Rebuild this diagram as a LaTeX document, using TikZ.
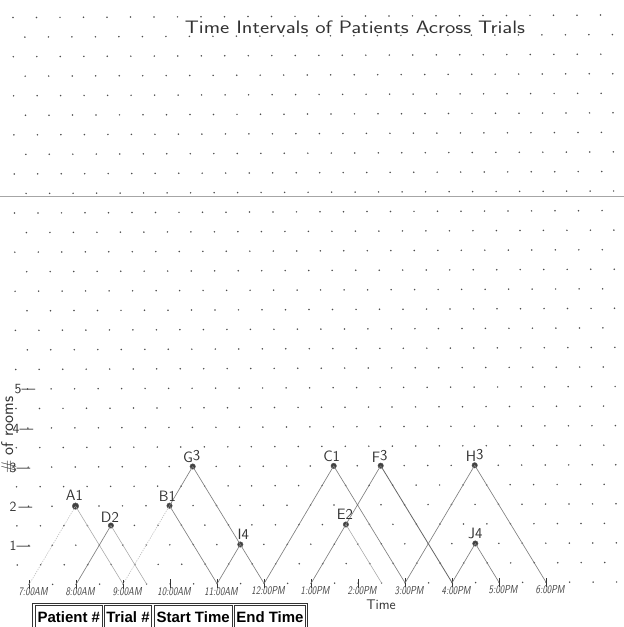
\documentclass[tikz,border=0pt]{standalone}
\usepackage{fontspec}
\newfontfamily\tablefont{Liberation Sans}
\begin{document}
\begin{tikzpicture}[x=1pt,y=1pt,
  peak/.style={circle,fill=black!75,draw=black!65,line width=0.4pt,inner sep=0pt,minimum size=5.5pt},
  pencil/.style={draw=black!50,line width=0.65pt},
  lightpencil/.style={draw=black!35,line width=0.55pt},
  faint/.style={draw=black!28,line width=0.55pt,dash pattern=on 1.2pt off 1.2pt},
  ptlabel/.style={font=\sffamily\fontsize{15}{15}\selectfont,inner sep=0pt,text=black!80},
  ticklab/.style={font=\sffamily\slshape\fontsize{11.5}{11.5}\selectfont,xscale=0.78,inner sep=0pt,text=black!75},
  tickmark/.style={rectangle,fill=black!80,inner sep=0pt,minimum width=1.1pt,minimum height=9pt},
  ylab/.style={font=\sffamily\fontsize{14}{14}\selectfont,inner sep=0pt,text=black!80},
  cell/.style={draw=black!80,line width=0.9pt,font=\tablefont\bfseries\fontsize{15}{15}\selectfont,inner sep=0pt,minimum height=23.4pt,anchor=north west}
]
\useasboundingbox (0,0) rectangle (624,627);
\clip (0,0) rectangle (624,627);
\fill[white] (0,0) rectangle (624,627);

% scan crease
\draw[black!35,line width=0.7pt] (0,431) -- (624,431);

% dot grid
\begin{scope}[shift={(13.3,570.3)},x={(23.5pt,0.1pt)},y={(0.15pt,-19.55pt)}]
\foreach \j in {-2,...,27}{
  \pgfmathsetmacro\off{mod(\j+2,2)*0.5}
  \foreach \i in {0,...,25}{
    \fill[black!70] (\i+\off,\j) circle[radius=0.85pt];
  }
}
\end{scope}

% title
\node[font=\sffamily\fontsize{18}{18}\selectfont,text=black!80,inner sep=0pt,xscale=1.22] (title) at (355,600) {Time Intervals of Patients Across Trials};

% chart
\begin{scope}[shift={(29.1,42.5)},x={(47pt,0.2pt)},y={(-0.3pt,39.1pt)}]
  \foreach \h in {0,...,11}{ \node[tickmark] (t\h) at (\h,0) {}; }
  \coordinate (h25) at (2.5,0);
  \coordinate (h75) at (7.5,0);
  \foreach \h/\lab in {0/7:00AM,1/8:00AM,2/9:00AM,3/10:00AM,4/11:00AM,5/12:00PM,6/1:00PM,7/2:00PM,8/3:00PM,9/4:00PM,10/5:00PM,11/6:00PM}{
    \node[ticklab] (l\h) at ([shift={(4pt,-7.5pt)}]t\h.center) {\lab};
  }
  \node[peak,minimum size=6.5pt] (A1) at (1,2) {};
  \node[peak] (D2) at (1.75,1.5) {};
  \node[peak] (B1) at (3,2) {};
  \node[peak] (G3) at (3.5,3) {};
  \node[peak] (I4) at (4.5,1) {};
  \node[peak] (C1) at (6.5,3) {};
  \node[peak] (E2) at (6.75,1.5) {};
  \node[peak] (F3) at (7.5,3) {};
  \node[peak] (H3) at (9.5,3) {};
  \node[peak] (J4) at (9.5,1) {};
\end{scope}

% connectors
\draw[faint] (t0.center) -- (A1.center);
\draw[lightpencil] (A1.center) -- (t2.center);
\draw[pencil] (t1.center) -- (D2.center);
\draw[lightpencil] (D2.center) -- (h25);
\draw[faint] (t2.center) -- (B1.center);
\draw[pencil] (B1.center) -- (G3.center);
\draw[pencil] (B1.center) -- (t4.center);
\draw[pencil] (G3.center) -- (I4.center) -- (t5.center);
\draw[pencil] (t4.center) -- (I4.center);
\draw[pencil] (t5.center) -- (C1.center) -- (t8.center);
\draw[pencil] (t6.center) -- (E2.center) -- (F3.center);
\draw[pencil,draw=black!60,line width=0.8pt] (F3.center) -- (t9.center);
\draw[lightpencil] (E2.center) -- (h75);
\draw[pencil] (t8.center) -- (H3.center) -- (t11.center);
\draw[pencil] (t9.center) -- (J4.center) -- (t10.center);

% point labels
\node[ptlabel] (lA1) at ([shift={(-1pt,10.5pt)}]A1.center) {A1};
\node[ptlabel] (lD2) at ([shift={(-1pt,8.5pt)}]D2.center) {D2};
\node[ptlabel] (lB1) at ([shift={(-2pt,9pt)}]B1.center) {B1};
\node[ptlabel] (lG3) at ([shift={(-1pt,10pt)}]G3.center) {G\raisebox{2pt}{3}};
\node[ptlabel] (lI4) at ([shift={(3pt,10.5pt)}]I4.center) {I4};
\node[ptlabel] (lC1) at ([shift={(-2pt,9.5pt)}]C1.center) {C1};
\node[ptlabel] (lE2) at ([shift={(-1pt,10pt)}]E2.center) {E2};
\node[ptlabel] (lF3) at ([shift={(-1pt,9pt)}]F3.center) {F\raisebox{2pt}{3}};
\node[ptlabel] (lH3) at ([shift={(0pt,9.5pt)}]H3.center) {H\raisebox{2pt}{3}};
\node[ptlabel] (lJ4) at ([shift={(0pt,10.5pt)}]J4.center) {J4};

% axis texts
\node[ylab] (y5) at (25,237.5) {5---};
\node[ylab] (y4) at (23,198) {4---};
\node[ylab] (y3) at (20,159) {3---};
\node[ylab] (y2) at (21,120) {2\,---};
\node[ylab] (y1) at (20,81.5) {1---};
\node[font=\sffamily\fontsize{17}{17}\selectfont,text=black!80,inner sep=0pt,rotate=90,anchor=base west] (ylabel) at (13,153) {\# of rooms};
\node[font=\sffamily\fontsize{14}{14}\selectfont,text=black!80,inner sep=0pt] (xlabel) at (381,22) {Time};

% table
\node[draw=black!80,line width=0.9pt,minimum width=274.7pt,minimum height=30pt,anchor=north west,inner sep=0pt] (frame) at (32.3,24.3) {};
\node[cell,minimum width=66.7pt] (c1) at (35,22) {Patient \#};
\node[cell,minimum width=47pt] (c2) at (104,22) {Trial \#};
\node[cell,minimum width=78pt] (c3) at (153.7,22) {Start Time};
\node[cell,minimum width=71pt] (c4) at (234,22) {End Time};
\end{tikzpicture}
\end{document}
